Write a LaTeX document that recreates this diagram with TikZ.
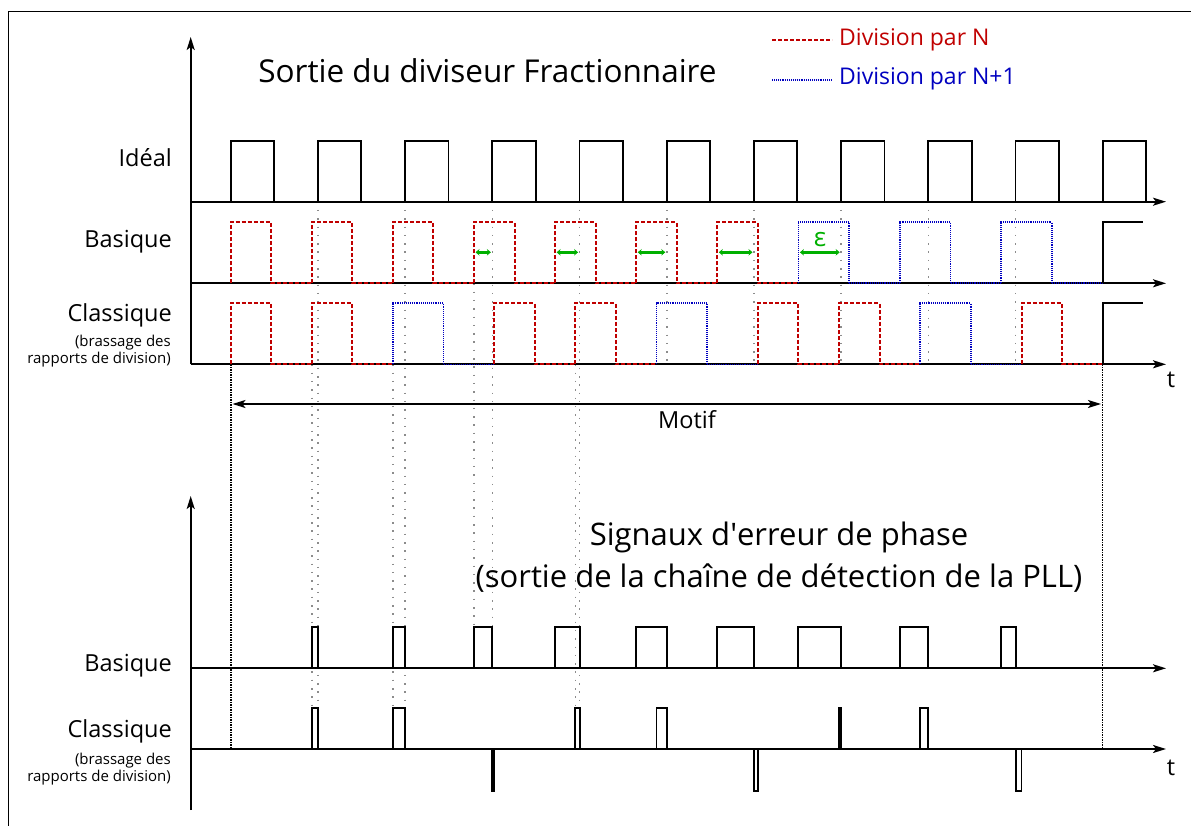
\documentclass[tikz,border=0pt]{standalone}
\usepackage{fontspec}
\setmainfont{Open Sans}
\newfontfamily\aposfont{Open Sans}
\usetikzlibrary{arrows.meta}
\definecolor{cred}{HTML}{C00000}
\definecolor{cblue}{HTML}{0000C0}
\definecolor{cgreen}{HTML}{00B000}
\definecolor{cguide}{HTML}{8C8C8C}
\tikzset{
  axis/.style={line width=1.9pt,-{Stealth[length=13pt,width=8pt,inset=3pt]}},
  sig/.style={line width=1.9pt,line join=miter},
  nsig/.style={cred,line width=2pt,dash pattern=on 4pt off 2pt},
  psig/.style={cblue,line width=1.6pt,dash pattern=on 1pt off 0.9pt},
  guide/.style={cguide,line width=1.5pt,dash pattern=on 1.5pt off 6.8pt},
  bound/.style={black,line width=1.6pt,dash pattern=on 1.2pt off 1.3pt},
  epsarrow/.style={cgreen,line width=2.7pt,{Stealth[length=4pt,width=6.5pt]}-{Stealth[length=4pt,width=6.5pt]}},
  biglabel/.style={anchor=mid east,font=\fontsize{23.5}{26}\selectfont,inner sep=0pt},
  smalllabel/.style={anchor=mid east,font=\fontsize{15}{17}\selectfont,inner sep=0pt},
}
\begin{document}
\begin{tikzpicture}[x=1pt,y=-1pt]
\useasboundingbox (0,0) rectangle (1191,826);
\clip (0,0) rectangle (1191,826);
\fill[white] (0,0) rectangle (1191,826);
% frame
\draw[line width=1.8pt] (8.5,840) -- (8.5,11.5) -- (1200,11.5);

% ---- guides (gray dotted)
\foreach \x in {666.8,754,841.2,928.4,1015.6} \draw[guide] (\x,201.7) -- (\x,364.3);
\foreach \x in {318,405.2,579.6} \draw[guide] (\x,201.7) -- (\x,708.3);
\draw[guide] (492.4,201.7) -- (492.4,626.7);
\draw[guide] (474,283.3) -- (474,626.7);
\foreach \x in {311.8,392.9,575.4} \draw[guide] (\x,364.3) -- (\x,708.3);
% bounds of the pattern
\draw[bound] (230.7,364.3) -- (230.7,749);
\draw[bound] (1102.6,364.3) -- (1102.6,749);

% ---- axes (top)
\coordinate (o1) at (190.7,364.3);
\coordinate (y1) at (190.7,37);
\draw[axis] (o1) -- (y1);
\coordinate (ai0) at (190.7,201.7); \coordinate (ai1) at (1166,201.7);
\coordinate (ab0) at (190.7,283.3); \coordinate (ab1) at (1166,283.3);
\coordinate (ac0) at (190.7,364.3); \coordinate (ac1) at (1166,364.3);
\draw[axis] (ai0) -- (ai1);
\draw[axis] (ab0) -- (ab1);
\draw[axis] (ac0) -- (ac1);

% ---- Ideal
\foreach \k in {0,...,10} {
  \pgfmathsetmacro\s{230.7+87.2*\k}
  \draw[sig] (\s,201.7) -- (\s,141) -- (\s+43.4,141) -- (\s+43.4,201.7);
}
% ---- Basique
\foreach \k in {0,...,6} {
  \pgfmathsetmacro\s{230.7+81.1*\k}
  \draw[nsig] (\s,283.3) -- (\s,222.3) -- (\s+40.5,222.3) -- (\s+40.5,283.3) -- (\s+81.1,283.3);
}
\foreach \k in {0,1,2} {
  \pgfmathsetmacro\s{798.4+101.4*\k}
  \draw[psig] (\s,283.3) -- (\s,222.3) -- (\s+50.7,222.3) -- (\s+50.7,283.3) -- (\s+101.4,283.3);
}
\draw[sig] (1102.6,283.3) -- (1102.6,222.3) -- (1143,222.3);
% ---- Classique
\foreach \s in {230.7,311.8,494.3,575.4,757.9,839.0,1021.5} {
  \draw[nsig] (\s,364.3) -- (\s,303.3) -- (\s+40.5,303.3) -- (\s+40.5,364.3) -- (\s+81.1,364.3);
}
\foreach \s in {392.9,656.5,920.1} {
  \draw[psig] (\s,364.3) -- (\s,303.3) -- (\s+50.7,303.3) -- (\s+50.7,364.3) -- (\s+101.4,364.3);
}
\draw[sig] (1102.6,364.3) -- (1102.6,303.3) -- (1143,303.3);

% ---- epsilon arrows
\foreach \a/\b in {474/492.4,555.1/579.6,636.2/666.8,717.3/754,798.4/841.2} {
  \draw[epsarrow] (\a+1.5,252.3) -- (\b-1.5,252.3);
}
\node[cgreen,font=\fontsize{26}{28}\selectfont,inner sep=0pt] (eps) at (820,240) {ε};

% ---- Motif
\coordinate (mL) at (232.5,404);
\coordinate (mR) at (1101,404);
\draw[line width=1.7pt,{Stealth[length=13pt,width=8pt,inset=3pt]}-{Stealth[length=13pt,width=8pt,inset=3pt]}] (mL) -- (mR);
\node[font=\fontsize{23.5}{26}\selectfont,inner sep=0pt] (motif) at (687,420) {Motif};

% ---- axes (bottom)
\coordinate (o2) at (190.7,810);
\coordinate (y2) at (190.7,496);
\draw[axis] (o2) -- (y2);
\coordinate (eb0) at (190.7,668.3); \coordinate (eb1) at (1166,668.3);
\coordinate (ec0) at (190.7,749); \coordinate (ec1) at (1166,749);
\draw[axis] (eb0) -- (eb1);
\draw[axis] (ec0) -- (ec1);

% ---- phase error basique
\foreach \a/\b in {311.8/318,392.9/405.2,474/492.4,555.1/579.6,636.2/666.8,717.3/754,798.4/841.2,899.8/928.4,1001.2/1015.6} {
  \draw[sig] (\a,668.3) -- (\a,626.7) -- (\b,626.7) -- (\b,668.3);
}
% ---- phase error classique
\foreach \a/\b in {311.8/318,392.9/405.2,575.4/579.6,656.5/666.8,839.0/841.2,920.1/928.4} {
  \draw[sig] (\a,749) -- (\a,708.3) -- (\b,708.3) -- (\b,749);
}
\foreach \a/\b in {492.4/494.3,754/757.9,1015.6/1021.5} {
  \draw[sig] (\a,749) -- (\a,790.7) -- (\b,790.7) -- (\b,749);
}

% ---- texts
\node[font=\fontsize{31.5}{34}\selectfont,inner sep=0pt] (title) at (487.5,71) {Sortie du diviseur Fractionnaire};
\draw[nsig,line width=1.6pt] (772,40) -- (832,40);
\node[cred,anchor=west,font=\fontsize{23}{25}\selectfont,inner sep=0pt] (legN) at (839,40) {Division par N};
\draw[psig,line width=1.6pt] (772,80) -- (832,80);
\node[cblue,anchor=west,font=\fontsize{23}{25}\selectfont,inner sep=0pt] (legP) at (839,79) {Division par N+1};

\node[biglabel] (lid) at (172,164) {Idéal};
\node[biglabel] (lba) at (172,245) {Basique};
\node[biglabel] (lcl) at (172,319) {Classique};
\node[smalllabel] (lcl2) at (171,344) {(brassage des};
\node[smalllabel] (lcl3) at (171,361) {rapports de division)};
\node[font=\fontsize{23.5}{26}\selectfont,inner sep=0pt] (t1) at (1171,380) {t};

\node[font=\fontsize{31}{34}\selectfont,inner sep=0pt] (sub1) at (779,537) {Signaux d{\aposfont'}erreur de phase};
\node[font=\fontsize{31}{34}\selectfont,inner sep=0pt] (sub2) at (779,578) {(sortie de la chaîne de détection de la PLL)};

\node[biglabel] (eba) at (172,669) {Basique};
\node[biglabel] (ecl) at (172,735) {Classique};
\node[smalllabel] (ecl2) at (171,762) {(brassage des};
\node[smalllabel] (ecl3) at (171,779) {rapports de division)};
\node[font=\fontsize{23.5}{26}\selectfont,inner sep=0pt] (t2) at (1171,768) {t};
\end{tikzpicture}
\end{document}
